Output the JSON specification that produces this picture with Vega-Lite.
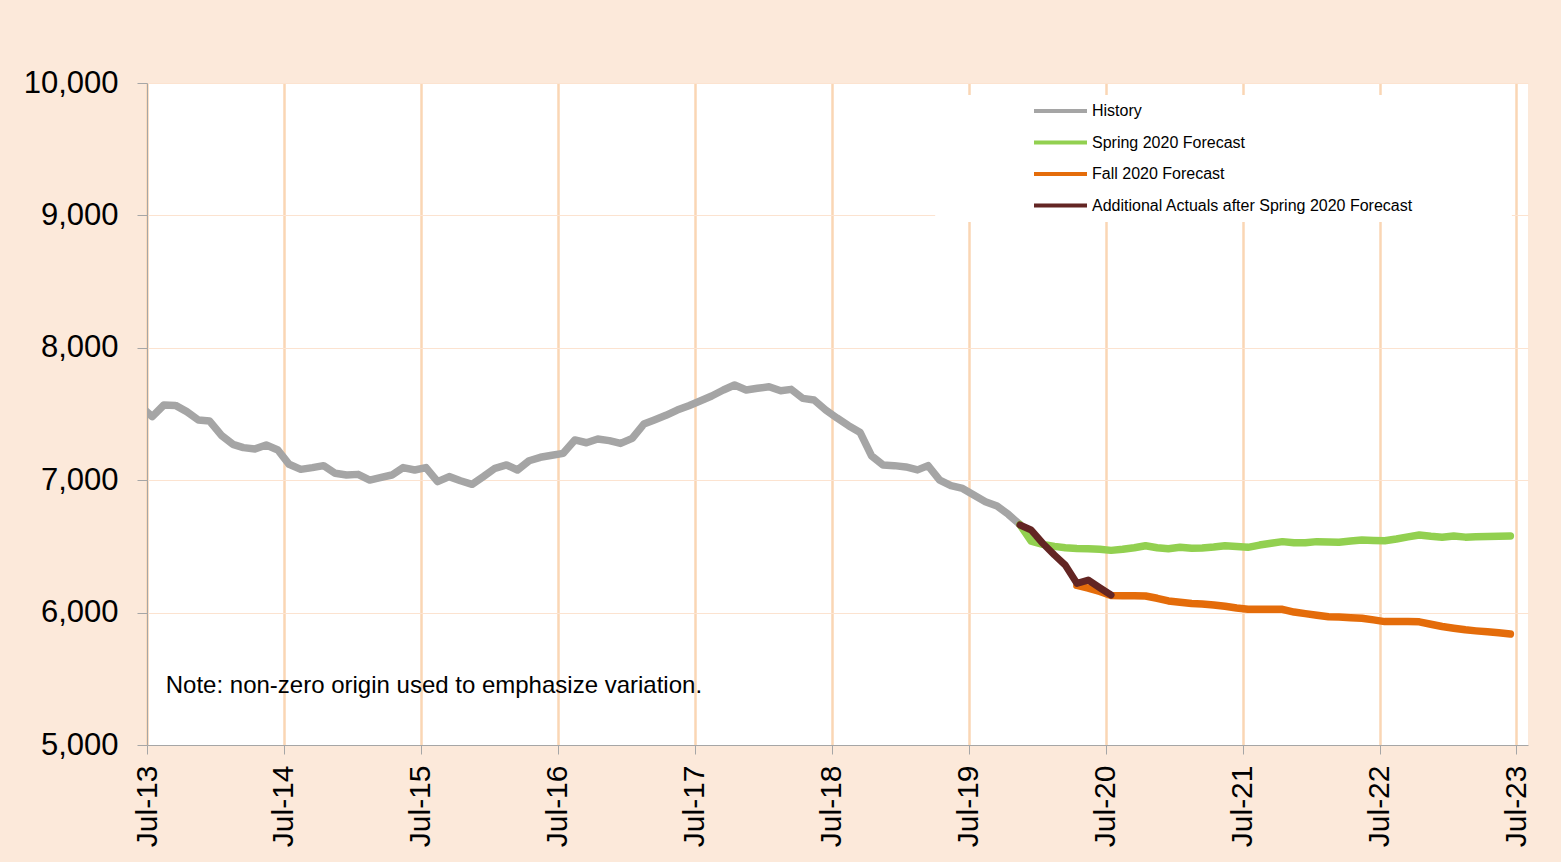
{
  "$schema": "https://vega.github.io/schema/vega-lite/v6.json",
  "autosize": {"type": "none"},
  "padding": {"left": 147, "top": 83, "right": 33, "bottom": 117},
  "width": 1381,
  "height": 662,
  "background": "#FCE9DA",
  "config": {
    "view": {"fill": "white", "stroke": null},
    "font": "Liberation Sans"
  },
  "datasets": {
    "series": [
    {"date": "2013-06-15", "series": "History", "value": 7555},
    {"date": "2013-07-15", "series": "History", "value": 7480},
    {"date": "2013-08-15", "series": "History", "value": 7568},
    {"date": "2013-09-15", "series": "History", "value": 7565},
    {"date": "2013-10-15", "series": "History", "value": 7518},
    {"date": "2013-11-15", "series": "History", "value": 7455},
    {"date": "2013-12-15", "series": "History", "value": 7447},
    {"date": "2014-01-15", "series": "History", "value": 7340},
    {"date": "2014-02-15", "series": "History", "value": 7271},
    {"date": "2014-03-15", "series": "History", "value": 7246},
    {"date": "2014-04-15", "series": "History", "value": 7236},
    {"date": "2014-05-15", "series": "History", "value": 7266},
    {"date": "2014-06-15", "series": "History", "value": 7228},
    {"date": "2014-07-15", "series": "History", "value": 7120},
    {"date": "2014-08-15", "series": "History", "value": 7082},
    {"date": "2014-09-15", "series": "History", "value": 7095},
    {"date": "2014-10-15", "series": "History", "value": 7110},
    {"date": "2014-11-15", "series": "History", "value": 7052},
    {"date": "2014-12-15", "series": "History", "value": 7039},
    {"date": "2015-01-15", "series": "History", "value": 7044},
    {"date": "2015-02-15", "series": "History", "value": 7001},
    {"date": "2015-03-15", "series": "History", "value": 7020},
    {"date": "2015-04-15", "series": "History", "value": 7039},
    {"date": "2015-05-15", "series": "History", "value": 7095},
    {"date": "2015-06-15", "series": "History", "value": 7077},
    {"date": "2015-07-15", "series": "History", "value": 7095},
    {"date": "2015-08-15", "series": "History", "value": 6989},
    {"date": "2015-09-15", "series": "History", "value": 7027},
    {"date": "2015-10-15", "series": "History", "value": 6996},
    {"date": "2015-11-15", "series": "History", "value": 6969},
    {"date": "2015-12-15", "series": "History", "value": 7027},
    {"date": "2016-01-15", "series": "History", "value": 7090},
    {"date": "2016-02-15", "series": "History", "value": 7115},
    {"date": "2016-03-15", "series": "History", "value": 7077},
    {"date": "2016-04-15", "series": "History", "value": 7147},
    {"date": "2016-05-15", "series": "History", "value": 7173},
    {"date": "2016-06-15", "series": "History", "value": 7188},
    {"date": "2016-07-15", "series": "History", "value": 7203},
    {"date": "2016-08-15", "series": "History", "value": 7304},
    {"date": "2016-09-15", "series": "History", "value": 7283},
    {"date": "2016-10-15", "series": "History", "value": 7311},
    {"date": "2016-11-15", "series": "History", "value": 7299},
    {"date": "2016-12-15", "series": "History", "value": 7278},
    {"date": "2017-01-15", "series": "History", "value": 7316},
    {"date": "2017-02-15", "series": "History", "value": 7424},
    {"date": "2017-03-15", "series": "History", "value": 7455},
    {"date": "2017-04-15", "series": "History", "value": 7490},
    {"date": "2017-05-15", "series": "History", "value": 7530},
    {"date": "2017-06-15", "series": "History", "value": 7563},
    {"date": "2017-07-15", "series": "History", "value": 7598},
    {"date": "2017-08-15", "series": "History", "value": 7636},
    {"date": "2017-09-15", "series": "History", "value": 7681},
    {"date": "2017-10-15", "series": "History", "value": 7719},
    {"date": "2017-11-15", "series": "History", "value": 7681},
    {"date": "2017-12-15", "series": "History", "value": 7694},
    {"date": "2018-01-15", "series": "History", "value": 7706},
    {"date": "2018-02-15", "series": "History", "value": 7676},
    {"date": "2018-03-15", "series": "History", "value": 7686},
    {"date": "2018-04-15", "series": "History", "value": 7618},
    {"date": "2018-05-15", "series": "History", "value": 7606},
    {"date": "2018-06-15", "series": "History", "value": 7530},
    {"date": "2018-07-15", "series": "History", "value": 7470},
    {"date": "2018-08-15", "series": "History", "value": 7412},
    {"date": "2018-09-15", "series": "History", "value": 7360},
    {"date": "2018-10-15", "series": "History", "value": 7185},
    {"date": "2018-11-15", "series": "History", "value": 7115},
    {"date": "2018-12-15", "series": "History", "value": 7110},
    {"date": "2019-01-15", "series": "History", "value": 7100},
    {"date": "2019-02-15", "series": "History", "value": 7078},
    {"date": "2019-03-15", "series": "History", "value": 7110},
    {"date": "2019-04-15", "series": "History", "value": 7001},
    {"date": "2019-05-15", "series": "History", "value": 6959},
    {"date": "2019-06-15", "series": "History", "value": 6938},
    {"date": "2019-07-15", "series": "History", "value": 6888},
    {"date": "2019-08-15", "series": "History", "value": 6838},
    {"date": "2019-09-15", "series": "History", "value": 6805},
    {"date": "2019-10-15", "series": "History", "value": 6742},
    {"date": "2019-11-15", "series": "History", "value": 6665},
    {"date": "2019-11-15", "series": "Spring 2020 Forecast", "value": 6665},
    {"date": "2019-12-15", "series": "Spring 2020 Forecast", "value": 6540},
    {"date": "2020-01-15", "series": "Spring 2020 Forecast", "value": 6515},
    {"date": "2020-02-15", "series": "Spring 2020 Forecast", "value": 6500},
    {"date": "2020-03-15", "series": "Spring 2020 Forecast", "value": 6490},
    {"date": "2020-04-15", "series": "Spring 2020 Forecast", "value": 6485},
    {"date": "2020-05-15", "series": "Spring 2020 Forecast", "value": 6483},
    {"date": "2020-06-15", "series": "Spring 2020 Forecast", "value": 6478},
    {"date": "2020-07-15", "series": "Spring 2020 Forecast", "value": 6470},
    {"date": "2020-08-15", "series": "Spring 2020 Forecast", "value": 6478},
    {"date": "2020-09-15", "series": "Spring 2020 Forecast", "value": 6490},
    {"date": "2020-10-15", "series": "Spring 2020 Forecast", "value": 6505},
    {"date": "2020-11-15", "series": "Spring 2020 Forecast", "value": 6490},
    {"date": "2020-12-15", "series": "Spring 2020 Forecast", "value": 6482},
    {"date": "2021-01-15", "series": "Spring 2020 Forecast", "value": 6493},
    {"date": "2021-02-15", "series": "Spring 2020 Forecast", "value": 6486},
    {"date": "2021-03-15", "series": "Spring 2020 Forecast", "value": 6488},
    {"date": "2021-04-15", "series": "Spring 2020 Forecast", "value": 6495},
    {"date": "2021-05-15", "series": "Spring 2020 Forecast", "value": 6505},
    {"date": "2021-06-15", "series": "Spring 2020 Forecast", "value": 6500},
    {"date": "2021-07-15", "series": "Spring 2020 Forecast", "value": 6493},
    {"date": "2021-08-15", "series": "Spring 2020 Forecast", "value": 6510},
    {"date": "2021-09-15", "series": "Spring 2020 Forecast", "value": 6524},
    {"date": "2021-10-15", "series": "Spring 2020 Forecast", "value": 6536},
    {"date": "2021-11-15", "series": "Spring 2020 Forecast", "value": 6527},
    {"date": "2021-12-15", "series": "Spring 2020 Forecast", "value": 6527},
    {"date": "2022-01-15", "series": "Spring 2020 Forecast", "value": 6536},
    {"date": "2022-02-15", "series": "Spring 2020 Forecast", "value": 6533},
    {"date": "2022-03-15", "series": "Spring 2020 Forecast", "value": 6531},
    {"date": "2022-04-15", "series": "Spring 2020 Forecast", "value": 6540},
    {"date": "2022-05-15", "series": "Spring 2020 Forecast", "value": 6548},
    {"date": "2022-06-15", "series": "Spring 2020 Forecast", "value": 6545},
    {"date": "2022-07-15", "series": "Spring 2020 Forecast", "value": 6543},
    {"date": "2022-08-15", "series": "Spring 2020 Forecast", "value": 6556},
    {"date": "2022-09-15", "series": "Spring 2020 Forecast", "value": 6572},
    {"date": "2022-10-15", "series": "Spring 2020 Forecast", "value": 6586},
    {"date": "2022-11-15", "series": "Spring 2020 Forecast", "value": 6576},
    {"date": "2022-12-15", "series": "Spring 2020 Forecast", "value": 6569},
    {"date": "2023-01-15", "series": "Spring 2020 Forecast", "value": 6579},
    {"date": "2023-02-15", "series": "Spring 2020 Forecast", "value": 6570},
    {"date": "2023-03-15", "series": "Spring 2020 Forecast", "value": 6572},
    {"date": "2023-04-15", "series": "Spring 2020 Forecast", "value": 6575},
    {"date": "2023-05-15", "series": "Spring 2020 Forecast", "value": 6577},
    {"date": "2023-06-15", "series": "Spring 2020 Forecast", "value": 6579},
    {"date": "2020-04-15", "series": "Fall 2020 Forecast", "value": 6205},
    {"date": "2020-05-15", "series": "Fall 2020 Forecast", "value": 6185},
    {"date": "2020-06-15", "series": "Fall 2020 Forecast", "value": 6160},
    {"date": "2020-07-15", "series": "Fall 2020 Forecast", "value": 6130},
    {"date": "2020-08-15", "series": "Fall 2020 Forecast", "value": 6128},
    {"date": "2020-09-15", "series": "Fall 2020 Forecast", "value": 6128},
    {"date": "2020-10-15", "series": "Fall 2020 Forecast", "value": 6125},
    {"date": "2020-11-15", "series": "Fall 2020 Forecast", "value": 6108},
    {"date": "2020-12-15", "series": "Fall 2020 Forecast", "value": 6088},
    {"date": "2021-01-15", "series": "Fall 2020 Forecast", "value": 6078},
    {"date": "2021-02-15", "series": "Fall 2020 Forecast", "value": 6068},
    {"date": "2021-03-15", "series": "Fall 2020 Forecast", "value": 6065},
    {"date": "2021-04-15", "series": "Fall 2020 Forecast", "value": 6058},
    {"date": "2021-05-15", "series": "Fall 2020 Forecast", "value": 6048},
    {"date": "2021-06-15", "series": "Fall 2020 Forecast", "value": 6035},
    {"date": "2021-07-15", "series": "Fall 2020 Forecast", "value": 6025},
    {"date": "2021-08-15", "series": "Fall 2020 Forecast", "value": 6025},
    {"date": "2021-09-15", "series": "Fall 2020 Forecast", "value": 6025},
    {"date": "2021-10-15", "series": "Fall 2020 Forecast", "value": 6025},
    {"date": "2021-11-15", "series": "Fall 2020 Forecast", "value": 6004},
    {"date": "2021-12-15", "series": "Fall 2020 Forecast", "value": 5992},
    {"date": "2022-01-15", "series": "Fall 2020 Forecast", "value": 5980},
    {"date": "2022-02-15", "series": "Fall 2020 Forecast", "value": 5969},
    {"date": "2022-03-15", "series": "Fall 2020 Forecast", "value": 5966},
    {"date": "2022-04-15", "series": "Fall 2020 Forecast", "value": 5962},
    {"date": "2022-05-15", "series": "Fall 2020 Forecast", "value": 5957},
    {"date": "2022-06-15", "series": "Fall 2020 Forecast", "value": 5945},
    {"date": "2022-07-15", "series": "Fall 2020 Forecast", "value": 5932},
    {"date": "2022-08-15", "series": "Fall 2020 Forecast", "value": 5932},
    {"date": "2022-09-15", "series": "Fall 2020 Forecast", "value": 5932},
    {"date": "2022-10-15", "series": "Fall 2020 Forecast", "value": 5930},
    {"date": "2022-11-15", "series": "Fall 2020 Forecast", "value": 5912},
    {"date": "2022-12-15", "series": "Fall 2020 Forecast", "value": 5895},
    {"date": "2023-01-15", "series": "Fall 2020 Forecast", "value": 5882},
    {"date": "2023-02-15", "series": "Fall 2020 Forecast", "value": 5870},
    {"date": "2023-03-15", "series": "Fall 2020 Forecast", "value": 5862},
    {"date": "2023-04-15", "series": "Fall 2020 Forecast", "value": 5855},
    {"date": "2023-05-15", "series": "Fall 2020 Forecast", "value": 5847},
    {"date": "2023-06-15", "series": "Fall 2020 Forecast", "value": 5838},
    {"date": "2019-11-15", "series": "Additional Actuals after Spring 2020 Forecast", "value": 6662},
    {"date": "2019-12-15", "series": "Additional Actuals after Spring 2020 Forecast", "value": 6624},
    {"date": "2020-01-15", "series": "Additional Actuals after Spring 2020 Forecast", "value": 6523},
    {"date": "2020-02-15", "series": "Additional Actuals after Spring 2020 Forecast", "value": 6435},
    {"date": "2020-03-15", "series": "Additional Actuals after Spring 2020 Forecast", "value": 6359},
    {"date": "2020-04-15", "series": "Additional Actuals after Spring 2020 Forecast", "value": 6221},
    {"date": "2020-05-15", "series": "Additional Actuals after Spring 2020 Forecast", "value": 6246},
    {"date": "2020-06-15", "series": "Additional Actuals after Spring 2020 Forecast", "value": 6188},
    {"date": "2020-07-15", "series": "Additional Actuals after Spring 2020 Forecast", "value": 6133}
    ],
    "note": [{"note": "Note: non-zero origin used to emphasize variation."}]
  },
  "layer": [
    {
      "data": {"name": "series"},
      "transform": [{"filter": "datum.series === 'History'"}],
      "mark": {"type": "line", "strokeWidth": 7.5, "strokeCap": "round", "strokeJoin": "round", "clip": true},
      "encoding": {
        "x": {
          "field": "date", "type": "temporal", "title": null,
          "scale": {"domain": [{"year": 2013, "month": 7, "date": 1}, {"year": 2023, "month": 8, "date": 1}]},
          "axis": {
            "values": [
              {"year": 2013, "month": 7, "date": 1}, {"year": 2014, "month": 7, "date": 1},
              {"year": 2015, "month": 7, "date": 1}, {"year": 2016, "month": 7, "date": 1},
              {"year": 2017, "month": 7, "date": 1}, {"year": 2018, "month": 7, "date": 1},
              {"year": 2019, "month": 7, "date": 1}, {"year": 2020, "month": 7, "date": 1},
              {"year": 2021, "month": 7, "date": 1}, {"year": 2022, "month": 7, "date": 1},
              {"year": 2023, "month": 7, "date": 1}
            ],
            "format": "%b-%y",
            "labelAngle": 270,
            "labelFontSize": 30,
            "labelFont": "Liberation Sans",
            "labelColor": "#000000",
            "labelPadding": 11,
            "labelOverlap": false,
            "labelFlush": false,
            "tickSize": 9,
            "tickColor": "#A6A6A6",
            "domainColor": "#A6A6A6",
            "grid": true,
            "gridColor": "#FAD6B4",
            "gridWidth": 2.5,
            "zindex": 0
          }
        },
        "y": {
          "field": "value", "type": "quantitative", "title": null,
          "scale": {"domain": [5000, 10000], "nice": false, "zero": false},
          "axis": {
            "values": [5000, 6000, 7000, 8000, 9000, 10000],
            "format": ",.0f",
            "labelFontSize": 31,
            "labelFont": "Liberation Sans",
            "labelColor": "#000000",
            "labelPadding": 19,
            "tickSize": 10,
            "tickColor": "#A6A6A6",
            "domainColor": "#A6A6A6",
            "grid": true,
            "gridColor": "#FCE3D0",
            "gridWidth": 1,
            "zindex": 0
          }
        },
        "color": {
          "field": "series", "type": "nominal",
          "scale": {
            "domain": ["History", "Spring 2020 Forecast", "Fall 2020 Forecast", "Additional Actuals after Spring 2020 Forecast"],
            "range": ["#A5A5A5", "#92D050", "#E46C0A", "#632523"]
          },
          "legend": {
            "title": null,
            "orient": "none",
            "legendX": 885,
            "legendY": 20,
            "padding": 0,
            "symbolType": "stroke",
            "symbolSize": 2809,
            "symbolStrokeWidth": 4,
            "clipHeight": 16,
            "rowPadding": 15.5,
            "labelOffset": 3,
            "labelFontSize": 16,
            "labelFont": "Liberation Sans",
            "labelColor": "#000000",
            "labelLimit": 600
          }
        }
      }
    },
    {
      "data": {"name": "note"},
      "mark": {"type": "rect", "fill": "white"},
      "encoding": {
        "x": {"datum": {"year": 2019, "month": 4, "date": 3}, "type": "temporal"},
        "x2": {"datum": {"year": 2023, "month": 6, "date": 19}},
        "y": {"datum": 9910, "type": "quantitative"},
        "y2": {"datum": 8950}
      }
    },
    {
      "data": {"name": "note"},
      "mark": {"type": "text", "align": "left", "baseline": "middle", "fontSize": 24, "font": "Liberation Sans", "color": "#000000"},
      "encoding": {
        "x": {"datum": {"year": 2013, "month": 8, "date": 20}, "type": "temporal"},
        "y": {"datum": 5446, "type": "quantitative"},
        "text": {"field": "note", "type": "nominal"}
      }
    },
    {
      "data": {"name": "series"},
      "transform": [{"filter": "datum.series === 'Spring 2020 Forecast'"}],
      "mark": {"type": "line", "strokeWidth": 7.5, "strokeCap": "round", "strokeJoin": "round", "clip": true},
      "encoding": {
        "x": {"field": "date", "type": "temporal"},
        "y": {"field": "value", "type": "quantitative"},
        "color": {"field": "series", "type": "nominal"}
      }
    },
    {
      "data": {"name": "series"},
      "transform": [{"filter": "datum.series === 'Fall 2020 Forecast'"}],
      "mark": {"type": "line", "strokeWidth": 7.5, "strokeCap": "round", "strokeJoin": "round", "clip": true},
      "encoding": {
        "x": {"field": "date", "type": "temporal"},
        "y": {"field": "value", "type": "quantitative"},
        "color": {"field": "series", "type": "nominal"}
      }
    },
    {
      "data": {"name": "series"},
      "transform": [{"filter": "datum.series === 'Additional Actuals after Spring 2020 Forecast'"}],
      "mark": {"type": "line", "strokeWidth": 7, "strokeCap": "round", "strokeJoin": "round", "clip": true},
      "encoding": {
        "x": {"field": "date", "type": "temporal"},
        "y": {"field": "value", "type": "quantitative"},
        "color": {"field": "series", "type": "nominal"}
      }
    }
  ]
}
